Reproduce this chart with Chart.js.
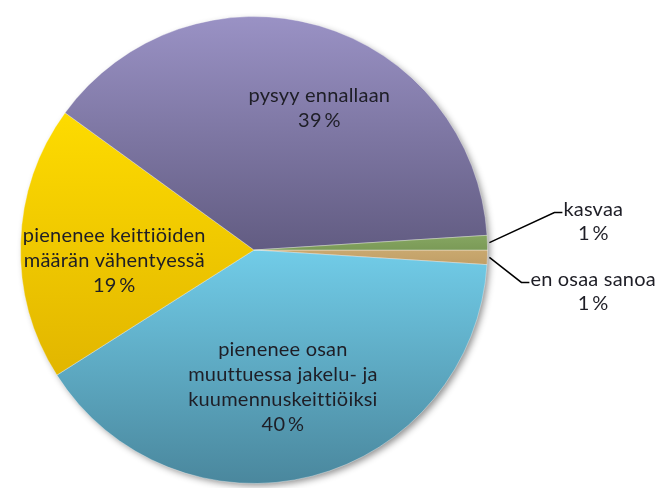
<!DOCTYPE html>
<html>
<head>
<meta charset="utf-8">
<script src="https://cdn.jsdelivr.net/npm/chart.js@4.4.0/dist/chart.umd.min.js"></script>
<style>
  html, body { margin: 0; padding: 0; background: #fff; }
  #wrap { width: 659px; height: 488px; }
</style>
</head>
<body>
<div id="wrap"><canvas id="pieChart"></canvas></div>
<script>
// slices go clockwise from 3 o'clock
const categories = ['en osaa sanoa', 'pienenee osan muuttuessa jakelu- ja kuumennuskeittiöiksi', 'pienenee keittiöiden määrän vähentyessä', 'pysyy ennallaan', 'kasvaa'];
const labelLines = [['en osaa sanoa'], ['pienenee osan', 'muuttuessa jakelu- ja', 'kuumennuskeittiöiksi'], ['pienenee keittiöiden', 'määrän vähentyessä'], ['pysyy ennallaan'], ['kasvaa']];
const percentages = [1, 40, 19, 39, 1];

// vertical gradient stops per slice (fraction of chart height, colour)
const gradientStops = [
  [[0.45, '#d8b87e'], [0.56, '#b8965e']],
  [[0.5, '#71cce8'], [1, '#4a879d']],
  [[0.18, '#ffdd00'], [0.9, '#dbad00']],
  [[0, '#9a92c5'], [0.5, '#625c82']],
  [[0.45, '#8cad66'], [0.54, '#6d8b4c']]
];

// label placement: [angle nudge in degrees, radius fraction]; outside labels get an elbow
const insideLabel = [null, [2.5, 0.6], [-6, 0.6], [8.5, 0.67], null];
const outsideLabel = [[32, 25, 8], null, null, null, [65, -30, 8]];

const FONT = '20px Lato, "Open Sans", sans-serif';

function sliceColor(c) {
  const area = c.chart.chartArea;
  const stops = gradientStops[c.dataIndex];
  if (!area) return stops[0][1];
  const g = c.chart.ctx.createLinearGradient(0, area.top, 0, area.bottom);
  stops.forEach(s => g.addColorStop(s[0], s[1]));
  return g;
}

const shadowPlugin = {
  id: 'pieShadow',
  beforeDatasetsDraw(chart) {
    const arc = chart.getDatasetMeta(0).data[0];
    if (!arc) return;
    const { x, y, outerRadius } = arc.getProps(['x', 'y', 'outerRadius'], true);
    const ctx = chart.ctx;
    ctx.save();
    ctx.shadowColor = 'rgba(0,0,0,0.45)';
    ctx.shadowBlur = 7;
    ctx.shadowOffsetX = 3;
    ctx.shadowOffsetY = 3;
    ctx.fillStyle = '#888';
    ctx.beginPath();
    ctx.arc(x, y, outerRadius - 1, 0, Math.PI * 2);
    ctx.fill();
    ctx.restore();
  }
};

const labelPlugin = {
  id: 'sliceLabels',
  afterDatasetsDraw(chart) {
    const ctx = chart.ctx;
    const meta = chart.getDatasetMeta(0);
    ctx.save();
    ctx.font = FONT;
    ctx.letterSpacing = '0.2px'; // keeps "tt" from turning into a ligature
    ctx.fillStyle = '#1e1e26';
    ctx.textBaseline = 'middle';
    meta.data.forEach((arc, i) => {
      const p = arc.getProps(['x', 'y', 'startAngle', 'endAngle', 'outerRadius'], true);
      const mid = (p.startAngle + p.endAngle) / 2;
      const lines = labelLines[i].concat([percentages[i] + '\u2009%']);
      if (insideLabel[i]) {
        const a = mid + insideLabel[i][0] * Math.PI / 180;
        const r = p.outerRadius * insideLabel[i][1];
        const cx = p.x + Math.cos(a) * r;
        const cy = p.y + Math.sin(a) * r;
        const lh = 25;
        ctx.textAlign = 'center';
        lines.forEach((t, k) => {
          ctx.fillText(t, cx, cy + (k - (lines.length - 1) / 2) * lh);
        });
      } else {
        const [dx, dy, hx] = outsideLabel[i];
        const sx = p.x + Math.cos(mid) * (p.outerRadius + 2);
        const sy = p.y + Math.sin(mid) * (p.outerRadius + 2);
        const ex = sx + dx, ey = sy + dy;
        ctx.strokeStyle = '#000';
        ctx.lineWidth = 1.5;
        ctx.beginPath();
        ctx.moveTo(sx, sy);
        ctx.lineTo(ex, ey);
        ctx.lineTo(ex + hx, ey);
        ctx.stroke();
        const w = ctx.measureText(lines[0]).width;
        const tx = ex + hx + 1 + w / 2;
        ctx.textAlign = 'center';
        ctx.fillText(lines[0], tx, ey - 3);
        ctx.fillText(lines[1], tx, ey + 21);
      }
    });
    ctx.restore();
  }
};

new Chart(document.getElementById('pieChart'), {
  type: 'pie',
  data: {
    labels: categories,
    datasets: [{
      data: percentages,
      backgroundColor: sliceColor,
      borderColor: 'rgba(255,255,255,0.35)',
      borderWidth: 1
    }]
  },
  options: {
    responsive: true,
    maintainAspectRatio: false,
    animation: false,
    rotation: 90,
    layout: { padding: { left: 20, right: 171, top: 16, bottom: 4 } },
    plugins: {
      legend: { display: false },
      tooltip: { enabled: false }
    }
  },
  plugins: [shadowPlugin, labelPlugin]
});
</script>
</body>
</html>
